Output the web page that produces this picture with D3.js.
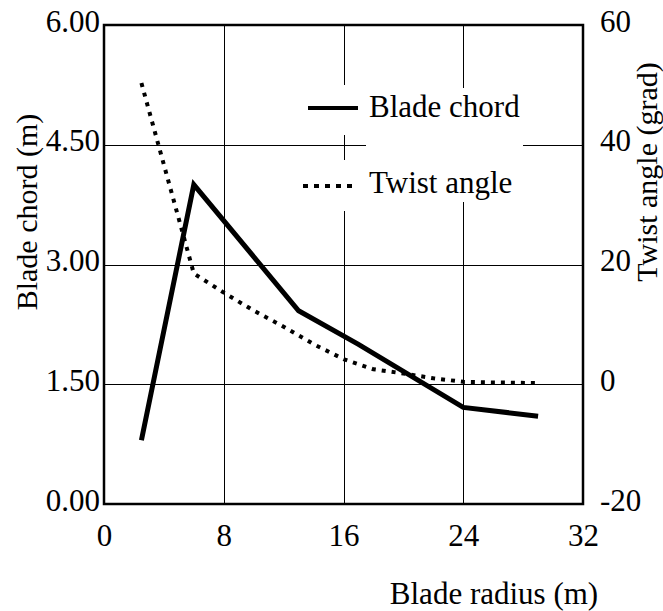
<!DOCTYPE html>
<html>
<head>
<meta charset="utf-8">
<script src="https://cdn.jsdelivr.net/npm/d3@7"></script>
<style>
  html, body { margin: 0; padding: 0; background: #fff; }
  svg text { font-family: "Liberation Serif", "Times New Roman", serif; fill: #000; }
</style>
</head>
<body>
<svg id="chart" width="663" height="611"></svg>
<script>
// ---- data ----
const chordRadius = [2.5, 6, 13, 17, 24, 29];
const chordValues = [0.8, 4.0, 2.42, 2.0, 1.21, 1.1];

const twistRadius = [2.5, 6, 8, 10, 12, 14, 16, 18, 20, 22, 24, 26, 29];
const twistValues = [50.3, 18.5, 15.3, 12.3, 9.6, 6.7, 4.2, 2.5, 1.8, 1.0, 0.4, 0.3, 0.2];

const xTicks = [0, 8, 16, 24, 32];
const chordTicks = [0, 1.5, 3, 4.5, 6];
const twistTicks = [-20, 0, 20, 40, 60];

const seriesNames = ["Blade chord", "Twist angle"];
const xTitle = "Blade radius (m)";
const yLeftTitle = "Blade chord (m)";
const yRightTitle = "Twist angle (grad)";

// ---- layout ----
const svg = d3.select("#chart");
const L = 104, R = 583, T = 25, B = 504;
const fs = 31;

const x = d3.scaleLinear().domain([0, 32]).range([L, R]);
const yC = d3.scaleLinear().domain([0, 6]).range([B, T]);
const yT = d3.scaleLinear().domain([-20, 60]).range([B, T]);

// grid
const grid = svg.append("g").attr("stroke", "#000").attr("stroke-width", 1);
xTicks.filter(d => d > 0 && d < 32).forEach(d => {
  grid.append("line").attr("x1", Math.round(x(d)) + 0.5).attr("x2", Math.round(x(d)) + 0.5)
    .attr("y1", T).attr("y2", B);
});
chordTicks.filter(d => d > 0 && d < 6).forEach(d => {
  grid.append("line").attr("y1", Math.round(yC(d)) + 0.5).attr("y2", Math.round(yC(d)) + 0.5)
    .attr("x1", L).attr("x2", R);
});

// axes (labels only; frame drawn separately)
const fmt2 = d3.format(".2f");
const axL = d3.axisLeft(yC).tickValues(chordTicks).tickFormat(fmt2).tickSize(0).tickPadding(4);
const axR = d3.axisRight(yT).tickValues(twistTicks).tickFormat(d => String(d)).tickSize(0).tickPadding(17);
const axB = d3.axisBottom(x).tickValues(xTicks).tickFormat(d => String(d)).tickSize(0).tickPadding(20);

function styleAxis(g) {
  g.select(".domain").remove();
  g.selectAll("text").attr("font-size", fs).attr("font-family", "Liberation Serif").attr("fill", "#000");
}
svg.append("g").attr("transform", `translate(${L},0)`).call(axL).call(styleAxis)
  .selectAll("text").attr("dy", "0.2em");
svg.append("g").attr("transform", `translate(${R},0)`).call(axR).call(styleAxis)
  .selectAll("text").attr("dy", "0.2em");
svg.append("g").attr("transform", `translate(0,${B})`).call(axB).call(styleAxis)
  .selectAll("text").attr("dy", "0.71em");

// lines
const chordLine = d3.line().x((d, i) => x(chordRadius[i])).y(d => yC(d));
const twistLine = d3.line().x((d, i) => x(twistRadius[i])).y(d => yT(d));

svg.append("path").datum(twistValues).attr("d", twistLine)
  .attr("fill", "none").attr("stroke", "#000").attr("stroke-width", 4)
  .attr("stroke-dasharray", "4,6");
svg.append("path").datum(chordValues).attr("d", chordLine)
  .attr("fill", "none").attr("stroke", "#000").attr("stroke-width", 5)
  .attr("stroke-linejoin", "miter");

// legend
const lg = svg.append("g");
lg.append("rect").attr("x", 300).attr("y", 85).attr("width", 62).attr("height", 50).attr("fill", "#fff");
lg.append("rect").attr("x", 366).attr("y", 88).attr("width", 157).attr("height", 60).attr("fill", "#fff");
lg.append("rect").attr("x", 300).attr("y", 160).attr("width", 62).attr("height", 51).attr("fill", "#fff");
lg.append("rect").attr("x", 366).attr("y", 140).attr("width", 157).attr("height", 62).attr("fill", "#fff");
lg.append("line").attr("x1", 308).attr("x2", 358).attr("y1", 108).attr("y2", 108)
  .attr("stroke", "#000").attr("stroke-width", 4);
lg.append("line").attr("x1", 303).attr("x2", 353).attr("y1", 186).attr("y2", 186)
  .attr("stroke", "#000").attr("stroke-width", 4).attr("stroke-dasharray", "5,6");
lg.append("text").attr("x", 369).attr("y", 117).attr("font-size", fs).text(seriesNames[0]);
lg.append("text").attr("x", 369).attr("y", 193).attr("font-size", fs).text(seriesNames[1]);

// frame
svg.append("rect").attr("x", L).attr("y", T).attr("width", R - L).attr("height", B - T)
  .attr("fill", "none").attr("stroke", "#000").attr("stroke-width", 2.5);

// titles
svg.append("text").attr("x", 494).attr("y", 604).attr("text-anchor", "middle")
  .attr("font-size", fs).text(xTitle);
svg.append("text").attr("transform", "translate(37,212) rotate(-90)").attr("text-anchor", "middle")
  .attr("font-size", 30).text(yLeftTitle);
svg.append("text").attr("transform", "translate(657,172) rotate(-90)").attr("text-anchor", "middle")
  .attr("font-size", 30).text(yRightTitle);
</script>
</body>
</html>
